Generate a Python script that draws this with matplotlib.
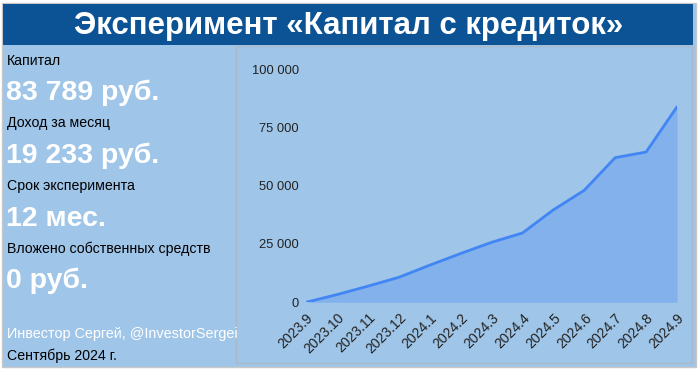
import matplotlib
matplotlib.use('Agg')
import matplotlib.pyplot as plt
from matplotlib.patches import Rectangle
from matplotlib.ticker import FuncFormatter, MultipleLocator

plt.rcParams['font.family'] = ['Liberation Sans', 'DejaVu Sans']

# data
months = ['2023.9', '2023.10', '2023.11', '2023.12', '2024.1', '2024.2', '2024.3',
          '2024.4', '2024.5', '2024.6', '2024.7', '2024.8', '2024.9']
capital = [0, 3300, 6900, 10700, 15900, 20900, 25700,
           29700, 39600, 48000, 62000, 64400, 83789]

title = 'Эксперимент «Капитал с кредиток»'
labels = ['Капитал', 'Доход за месяц', 'Срок эксперимента', 'Вложено собственных средств']
values = ['83 789 руб.', '19 233 руб.', '12 мес.', '0 руб.']
author = 'Инвестор Сергей, @InvestorSergei'
date_text = 'Сентябрь 2024 г.'

DARK = '#0B5394'
LIGHT = '#9FC5E8'
LINE = '#4285F4'

W, H = 700, 369
fig = plt.figure(figsize=(W / 100, H / 100), dpi=100)

# background layer in pixel coords
bg = fig.add_axes([0, 0, 1, 1])
bg.set_xlim(0, W)
bg.set_ylim(H, 0)
bg.axis('off')
bg.add_patch(Rectangle((2, 3), 694, 364, facecolor=LIGHT, edgecolor='#C8C8C8', lw=1))
bg.add_patch(Rectangle((3, 4), 690, 41, facecolor=DARK, edgecolor='none'))
bg.add_patch(Rectangle((236, 46), 456, 317, facecolor='none', edgecolor='#A9B9C9', lw=1))
bg.text(349, 26, title, color='white', fontsize=22.5, fontweight='bold',
        ha='center', va='center')

label_y = [61, 123, 186, 249]
value_y = [93, 156, 219, 281]
for lab, ly, val, vy in zip(labels, label_y, values, value_y):
    bg.text(7, ly, lab, fontsize=10.2, color='black', ha='left', va='center')
    bg.text(6, vy, val, fontsize=20.5, fontweight='bold', color='white',
            ha='left', va='center')
bg.text(7, 334, author, fontsize=10.4, color='white', ha='left', va='center')
bg.text(7, 356, date_text, fontsize=10.2, color='black', ha='left', va='center')

# the chart
ax = fig.add_axes([306 / W, 1 - 302.3 / H, 371 / W, 233.3 / H])
ax.patch.set_alpha(0)
x = list(range(len(months)))
ax.fill_between(x, capital, color=LINE, alpha=0.3, lw=0)
ax.plot(x, capital, color=LINE, lw=2, solid_capstyle='round')
ax.set_xlim(0, len(months) - 1)
ax.set_ylim(0, 100000)
ax.yaxis.set_major_locator(MultipleLocator(25000))
ax.yaxis.set_major_formatter(FuncFormatter(lambda v, p: f'{int(v):,}'.replace(',', ' ')))
ax.set_xticks(x)
ax.set_xticklabels(months, rotation=45, ha='right', rotation_mode='anchor')
ax.tick_params(length=0, colors='#222222')
ax.tick_params(axis='y', pad=5, labelsize=9.3)
ax.tick_params(axis='x', pad=6, labelsize=10)
for s in ax.spines.values():
    s.set_visible(False)

fig.savefig('out.png', dpi=100)
